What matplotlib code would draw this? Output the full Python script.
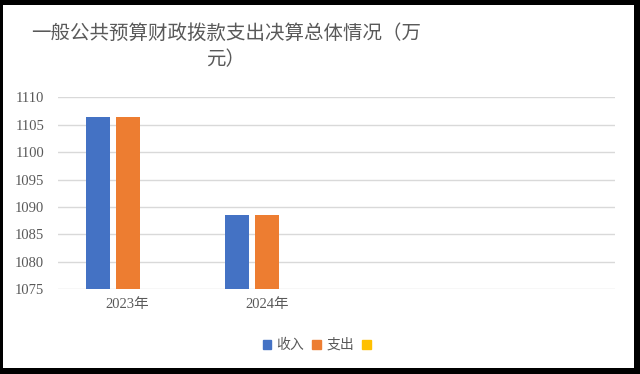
import numpy as np
import matplotlib.pyplot as plt
from matplotlib.patches import Rectangle, Patch

plt.rcParams['font.family'] = ['Liberation Serif', 'Noto Sans CJK SC', 'DejaVu Sans']

# chart data
categories = ['2023年', '2024年', '', '']
income = [1106.4, 1088.55]
spending = [1106.4, 1088.55]
other = []  # third series has no values
series_names = ['收入', '支出', ' ']
colors = ['#4472C4', '#ED7D31', '#FFC000']

W, H = 640, 374
fig = plt.figure(figsize=(W / 100, H / 100), dpi=100)
fig.patch.set_facecolor('black')
# white chart area inside black frame
fig.patches.append(Rectangle((3 / W, 1 - 368 / H), (634 - 3) / W, (368 - 5) / H,
                             transform=fig.transFigure, facecolor='white',
                             edgecolor='none', zorder=-5))

ax = fig.add_axes([58 / W, 1 - 289.3 / H, (615 - 58) / W, (289.3 - 97.3) / H])
ax.set_zorder(2)
ax.set_facecolor('none')

x = np.arange(len(categories))
bw = 0.172
off = 0.215
ax.bar(x[:len(income)] - off, income, bw, color=colors[0], zorder=3)
ax.bar(x[:len(spending)], spending, bw, color=colors[1], zorder=3)
ax.bar(x[:len(other)] + off, other, bw, color=colors[2], zorder=3)

ax.set_xlim(-0.5, len(categories) - 0.5)
ax.set_ylim(1075, 1110)
ax.set_yticks(np.arange(1075, 1111, 5))
ax.set_xticks(x)
ax.set_xticklabels(categories)
ax.grid(axis='y', color='#d9d9d9', linewidth=1, zorder=0)
for s in ax.spines.values():
    s.set_visible(False)
ax.tick_params(length=0, labelsize=10.5, labelcolor='#595959')
ax.tick_params(axis='y', pad=10)
ax.tick_params(axis='x', pad=6)

fig.text(226 / W, 1 - 33 / H, '一般公共预算财政拨款支出决算总体情况（万', ha='center', va='center',
         fontsize=14, color='#595959', fontweight='light', family=['Noto Sans CJK SC'])
fig.text(226 / W, 1 - 60 / H, '元）', ha='center', va='center',
         fontsize=14, color='#595959', fontweight='light', family=['Noto Sans CJK SC'])

handles = [Patch(color=c) for c in colors]
fig.legend(handles, series_names, loc='center', bbox_to_anchor=(321 / W, 1 - 345 / H),
           ncol=3, frameon=False, labelcolor='#595959',
           handlelength=0.6, handleheight=0.6, handletextpad=0.4, columnspacing=0.6,
           prop={'family': ['Noto Sans CJK SC'], 'size': 10, 'weight': 'light'})

fig.savefig('out.png', dpi=100, facecolor=fig.get_facecolor())
